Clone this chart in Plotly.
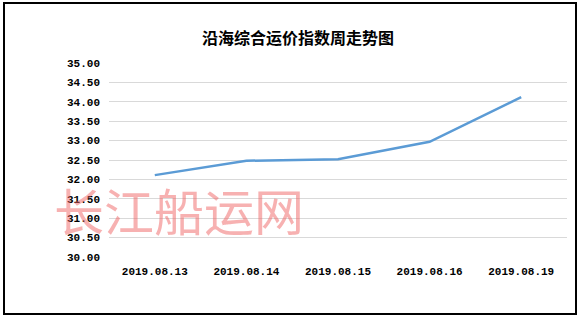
import plotly.graph_objects as go

categories = ["2019.08.13", "2019.08.14", "2019.08.15", "2019.08.16", "2019.08.19"]
values = [32.11, 32.48, 32.52, 32.97, 34.12]
tick_vals = [30.0, 30.5, 31.0, 31.5, 32.0, 32.5, 33.0, 33.5, 34.0, 34.5, 35.0]
tick_text = ["%.2f" % v for v in tick_vals]
title_text = "沿海综合运价指数周走势图"
watermark = "长江船运网"

W, H = 582, 318
L, R, T, B = 109, 15, 63, 61
pw, ph = W - L - R, H - T - B

def px(x):
    return (x - L) / pw

def py(y):
    return (H - B - y) / ph

tick_font = dict(family="Liberation Mono", size=11, color="#000", weight="bold")

fig = go.Figure()
fig.add_trace(go.Scatter(
    x=categories, y=values, mode="lines",
    line=dict(color="#5B9BD5", width=2.5),
    hoverinfo="skip", showlegend=False,
))

fig.update_layout(
    width=W, height=H,
    margin=dict(l=L, r=R, t=T, b=B),
    paper_bgcolor="white", plot_bgcolor="white",
    xaxis=dict(
        type="category", showgrid=False, zeroline=False, showline=False,
        ticks="", tickfont=tick_font, range=[-0.5, 4.5], ticklabelstandoff=6,
    ),
    yaxis=dict(
        range=[30, 35], tickvals=tick_vals, ticktext=tick_text,
        showgrid=True, gridcolor="#D9D9D9", gridwidth=1, zeroline=False,
        showline=False, ticks="", ticklabelstandoff=8, tickfont=tick_font,
    ),
    shapes=[dict(
        type="rect", xref="paper", yref="paper",
        x0=px(4), x1=px(576), y0=py(314), y1=py(3),
        line=dict(color="#000", width=2), fillcolor="rgba(0,0,0,0)", layer="above",
    )],
    annotations=[
        dict(text=title_text, xref="paper", yref="paper", x=px(298), y=py(37),
             xanchor="center", yanchor="middle", showarrow=False,
             font=dict(family="Noto Sans CJK SC", size=16, color="#000", weight="bold")),
        dict(text=watermark, xref="paper", yref="paper", x=px(52), y=py(209),
             xanchor="left", yanchor="middle", showarrow=False,
             font=dict(family="Noto Sans CJK SC", size=50, color="rgba(240,100,100,0.5)")),
    ],
)

fig.write_html("out.html")
